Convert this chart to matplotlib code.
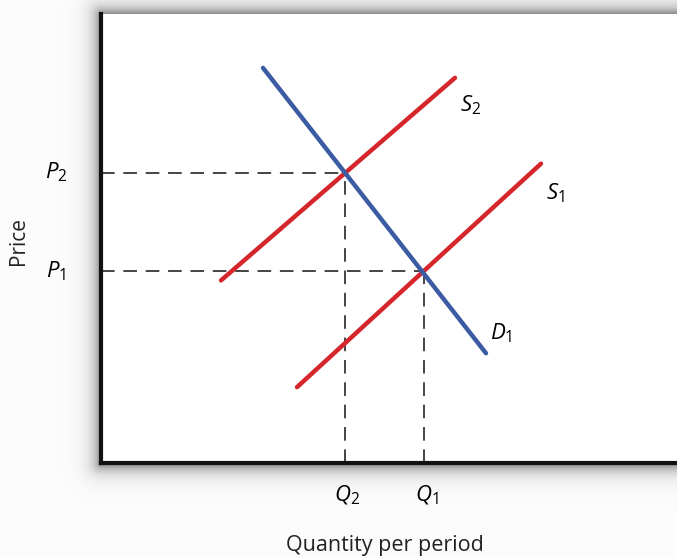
import numpy as np
import matplotlib
matplotlib.use("Agg")
import matplotlib.pyplot as plt

plt.rcParams["font.family"] = ["Open Sans", "DejaVu Sans"]
plt.rcParams["mathtext.fontset"] = "custom"
plt.rcParams["mathtext.rm"] = "Open Sans"
plt.rcParams["mathtext.it"] = "Open Sans:italic"

RED, BLUE, DASH = "#d4262b", "#3b5ca3", "#444444"

# curve end points (quantity, price)
demand_q = [3.24, 7.70]
demand_p = [7.92, 2.20]
s1_q = [3.92, 8.80]
s1_p = [1.52, 6.00]
s2_q = [2.40, 7.08]
s2_p = [3.66, 7.72]

# equilibria
eq_q = [6.46, 4.88]   # Q1, Q2
eq_p = [3.84, 5.82]   # P1, P2
eq_names = ["1", "2"]

W, H = 677, 558
fig = plt.figure(figsize=(W / 100, H / 100), dpi=100)
fig.patch.set_facecolor("#fcfcfc")

# panel drop shadow
L, T, B = 101, 14, 463
yy, xx = np.mgrid[0:H, 0:W]
dx = np.clip(L - xx, 0, None)
dy = np.clip(T - yy, 0, None) + np.clip(yy - B, 0, None)
d = np.hypot(dx, dy)
shade = 0.5 * np.exp(-d / 8.0)
shade[(xx >= L) & (yy >= T) & (yy <= B)] = 0
bg = fig.add_axes([0, 0, 1, 1], zorder=0)
img = np.ones((H, W, 3)) * 0.99
img *= (1 - shade)[..., None]
bg.imshow(img, extent=(0, W, H, 0), aspect="auto", interpolation="bilinear")
bg.axis("off")

ax = fig.add_axes([L / W, (H - B) / H, 600 / W, (B - T) / H], zorder=1)
ax.set_xlim(0, 12)
ax.set_ylim(0, 9)
ax.set_facecolor("white")
for s in ["top", "right"]:
    ax.spines[s].set_visible(False)
for s in ["left", "bottom"]:
    ax.spines[s].set_linewidth(3)
    ax.spines[s].set_color("#111111")
ax.set_xticks([])
ax.set_yticks([])

for q, p in zip(eq_q, eq_p):
    ax.plot([0, q], [p, p], color=DASH, lw=1.4, dashes=(7, 4.5))
    ax.plot([q, q], [0, p], color=DASH, lw=1.4, dashes=(7, 4.5))

ax.plot(s2_q, s2_p, color=RED, lw=3.2, solid_capstyle="round")
ax.plot(s1_q, s1_p, color=RED, lw=3.2, solid_capstyle="round")
ax.plot(demand_q, demand_p, color=BLUE, lw=3.2, solid_capstyle="round")

fs = 16
ax.text(s2_q[1] + 0.1, s2_p[1] - 0.55, "$S_2$", fontsize=fs, ha="left", va="center")
ax.text(s1_q[1] + 0.1, s1_p[1] - 0.6, "$S_1$", fontsize=fs, ha="left", va="center")
ax.text(demand_q[1] + 0.08, demand_p[1] + 0.4, "$D_1$", fontsize=fs, ha="left", va="center")

for q, p, n in zip(eq_q, eq_p, eq_names):
    ax.text(-0.9, p, f"$P_{n}$", fontsize=fs, ha="center", va="center")
    ax.text(q + 0.05, -0.65, f"$Q_{n}$", fontsize=fs, ha="center", va="center")

ax.text(-1.65, 4.45, "Price", fontsize=15, rotation=90, ha="center", va="center",
        color="#222222")
fig.text(385 / W, 1 - 545 / H, "Quantity per period", fontsize=15.5, ha="center",
         va="center", color="#222222")

fig.savefig("out.png", dpi=100, facecolor=fig.get_facecolor())
